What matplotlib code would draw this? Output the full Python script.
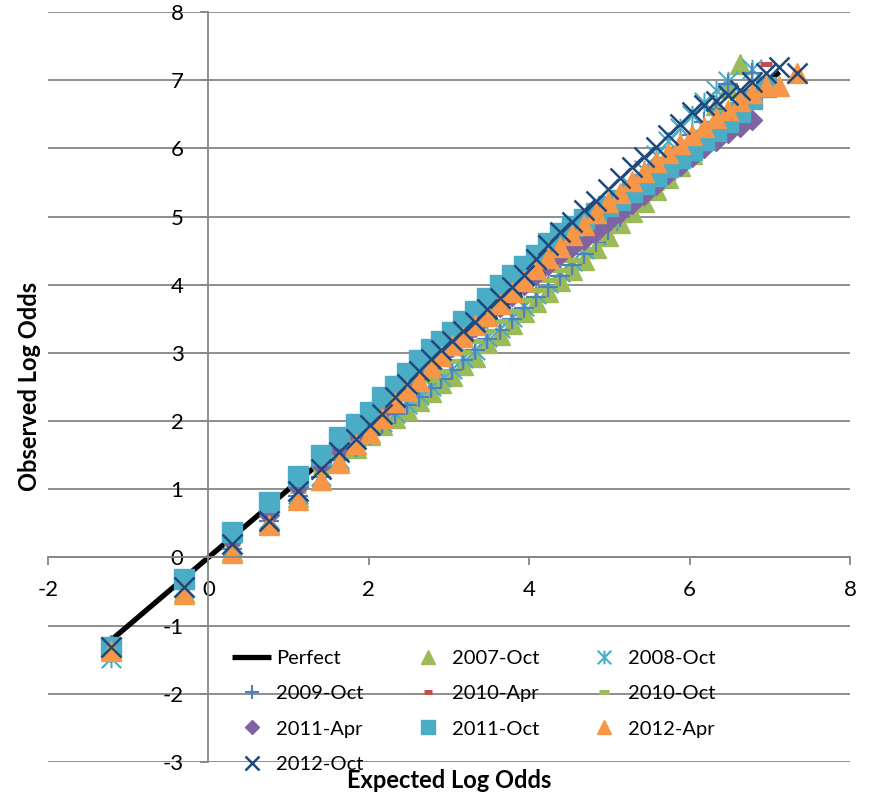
import numpy as np
import matplotlib
matplotlib.use('Agg')
import matplotlib.pyplot as plt
from matplotlib.path import Path

plt.rcParams['font.family'] = ['Lato', 'DejaVu Sans']
plt.rcParams['axes.unicode_minus'] = False

nan = np.nan

# expected log odds of the score bins (shared by all runs)
expected = [-1.22, -0.30, 0.30, 0.76, 1.12, 1.40, 1.63, 1.84, 2.01, 2.17,
            2.33, 2.48, 2.63, 2.77, 2.90, 3.04, 3.18, 3.33, 3.48, 3.63,
            3.78, 3.93, 4.08, 4.23, 4.38, 4.53, 4.68, 4.83, 4.98, 5.13,
            5.28, 5.43, 5.58, 5.73, 5.88, 6.03, 6.18, 6.33, 6.48, 6.63,
            6.78, 6.95, 7.12, 7.34]

perfect = [-1.25, 7.12]

# observed log odds per run
obs_2007_oct = [-1.34, -0.50, 0.10, 0.50, 0.88, 1.14, 1.41, 1.60, 1.79, 1.95,
                2.05, 2.17, 2.29, 2.42, 2.56, 2.66, 2.83, 2.94, 3.14, 3.27,
                3.43, 3.60, 3.74, 3.90, 4.05, 4.22, 4.37, 4.54, 4.71, 4.90,
                5.06, 5.22, 5.39, 5.56, 5.74, 5.92, 6.28, 6.63, 6.88, 7.24,
                nan, nan, nan, nan]
obs_2008_oct = [-1.47, -0.45, 0.15, 0.56, 0.93, 1.20, 1.45, 1.65, 1.82, 1.99,
                2.12, 2.25, 2.38, 2.51, 2.65, 2.77, 2.92, 3.05, 3.23, 3.36,
                3.53, 3.69, 3.86, 4.02, 4.18, 4.35, 4.53, 4.73, 4.96, 5.21,
                5.44, 5.68, 5.90, 6.11, 6.30, 6.49, 6.68, 6.85, 6.99, nan,
                7.17, nan, nan, nan]
obs_2009_oct = [-1.40, -0.46, 0.12, 0.54, 0.90, 1.18, 1.43, 1.62, 1.80, 1.96,
                2.10, 2.24, 2.36, 2.49, 2.62, 2.75, 2.90, 3.04, 3.20, 3.34,
                3.50, 3.66, 3.82, 3.97, 4.13, 4.29, 4.45, 4.62, 4.80, 5.00,
                5.19, 5.40, 5.60, 5.81, 6.00, 6.20, 6.39, 6.58, 6.95, nan,
                7.11, nan, nan, nan]
obs_2010_apr = [-1.36, -0.42, 0.18, 0.60, 0.98, 1.28, 1.52, 1.74, 1.92, 2.10,
                2.27, 2.42, 2.58, 2.74, 2.88, 3.02, 3.17, 3.32, 3.48, 3.63,
                3.79, 3.94, 4.10, 4.26, 4.41, 4.57, 4.72, 4.88, 5.03, 5.18,
                5.33, 5.48, 5.63, 5.78, 5.93, 6.07, 6.22, 6.37, 6.52, 6.66,
                6.80, 7.24, nan, nan]
obs_2010_oct = [-1.30, -0.40, 0.20, 0.62, 0.98, 1.26, 1.50, 1.70, 1.87, 2.03,
                2.18, 2.33, 2.47, 2.61, 2.74, 2.88, 3.02, 3.17, 3.32, 3.47,
                3.62, 3.77, 3.92, 4.07, 4.22, 4.37, 4.52, 4.67, 4.82, 4.97,
                5.12, 5.27, 5.42, 5.57, 5.72, 5.87, 6.02, 6.17, 6.32, 6.47,
                nan, nan, nan, nan]
obs_2011_apr = [-1.28, -0.36, 0.24, 0.62, 1.04, 1.36, 1.58, 1.79, 1.98, 2.15,
                2.38, 2.53, 2.68, 2.82, 2.95, 3.09, 3.23, 3.38, 3.53, 3.68,
                3.83, 3.99, 4.14, 4.29, 4.44, 4.55, 4.66, 4.78, 4.92, 5.05,
                5.18, 5.32, 5.47, 5.62, 5.74, 5.87, 6.00, 6.11, 6.22, 6.32,
                6.41, nan, nan, nan]
obs_2011_oct = [-1.32, -0.31, 0.37, 0.81, 1.20, 1.50, 1.76, 1.96, 2.13, 2.35,
                2.52, 2.70, 2.89, 3.06, 3.18, 3.30, 3.47, 3.62, 3.80, 3.99,
                4.14, 4.28, 4.44, 4.61, 4.76, 4.86, 4.96, 5.05, 5.16, 5.25,
                5.36, 5.48, 5.60, 5.73, 5.86, 5.98, 6.12, 6.25, 6.38, 6.53,
                6.73, 6.90, nan, nan]
obs_2012_apr = [-1.37, -0.53, 0.07, 0.48, 0.84, 1.13, 1.39, 1.67, 1.83, 2.04,
                2.28, 2.46, 2.59, 2.79, 2.95, 3.11, 3.24, 3.41, 3.54, 3.72,
                3.90, 4.05, 4.23, 4.39, 4.56, 4.73, 4.88, 5.05, 5.22, 5.35,
                5.52, 5.66, 5.80, 5.93, 6.06, 6.19, 6.32, 6.45, 6.57, 6.69,
                6.81, 6.91, 6.92, 7.10]
obs_2012_oct = [-1.32, -0.44, 0.20, 0.54, 0.98, 1.30, 1.54, 1.74, 1.94, 2.11,
                2.36, 2.55, 2.73, 2.91, 3.05, 3.17, 3.32, 3.46, 3.64, 3.81,
                3.97, 4.15, 4.38, 4.59, 4.77, 4.92, 5.09, 5.23, 5.41, 5.57,
                5.73, 5.87, 6.02, 6.19, 6.36, 6.53, 6.63, 6.69, 6.78, 6.85,
                6.98, 7.11, 7.20, 7.11]

# Excel-like star marker: an X with a vertical stroke
star = Path([(-1, -1), (1, 1), (-1, 1), (1, -1), (0, -1), (0, 1)],
            [Path.MOVETO, Path.LINETO, Path.MOVETO, Path.LINETO, Path.MOVETO, Path.LINETO])

series = [
    ('2007-Oct', obs_2007_oct, dict(marker='^', ms=14, color='#9BBB59')),
    ('2008-Oct', obs_2008_oct, dict(marker=star, ms=14, mew=1.5, color='#4BACC6')),
    ('2009-Oct', obs_2009_oct, dict(marker='+', ms=14, mew=1.6, color='#4F81BD')),
    ('2010-Apr', obs_2010_apr, dict(marker='_', ms=8, mew=3.6, color='#C0504D')),
    ('2010-Oct', obs_2010_oct, dict(marker='_', ms=11, mew=3.6, color='#9BBB59')),
    ('2011-Apr', obs_2011_apr, dict(marker='D', ms=10, color='#8064A2')),
    ('2011-Oct', obs_2011_oct, dict(marker='s', ms=14, color='#4BACC6')),
    ('2012-Apr', obs_2012_apr, dict(marker='^', ms=14, color='#F79646')),
    ('2012-Oct', obs_2012_oct, dict(marker='x', ms=14, mew=1.8, color='#1F497D')),
]

fig = plt.figure(figsize=(8.71, 7.95), dpi=100)
ax = fig.add_axes([48 / 871, 1 - 762 / 795, 802 / 871, 750 / 795])

handles = {}
h, = ax.plot(perfect, perfect, color='black', lw=3.8, solid_capstyle='butt', label='Perfect')
handles['Perfect'] = h
for name, obs, style in series:
    h, = ax.plot(expected, obs, linestyle='none', mec=style['color'], label=name, **style)
    handles[name] = h

grey = '#868686'
ax.set_xlim(-2, 8)
ax.set_ylim(-3, 8)
ax.set_xticks(np.arange(-2, 9, 2))
ax.set_yticks(np.arange(-3, 9, 1))
ax.spines['left'].set_position(('data', 0))
ax.spines['bottom'].set_position(('data', 0))
for s in ['top', 'right']:
    ax.spines[s].set_visible(False)
for s in ['left', 'bottom']:
    ax.spines[s].set_color(grey)
    ax.spines[s].set_linewidth(1.3)
ax.yaxis.grid(True, color=grey, lw=1.3)
ax.set_axisbelow(True)
ax.tick_params(axis='x', direction='out', length=6, width=1.3, color=grey, pad=10, labelsize=16)
ax.tick_params(axis='y', direction='out', length=6, width=1.3, color=grey, pad=12, labelsize=16)
ax.patch.set_alpha(0)

fig.text(449 / 871, 1 - 781 / 795, 'Expected Log Odds', ha='center', va='center',
         fontsize=17, fontweight='bold')
fig.text(30 / 871, 1 - 386 / 795, 'Observed Log Odds', ha='center', va='center',
         rotation=90, fontsize=17, fontweight='bold')

# Excel fills the legend row by row, matplotlib column by column
order = ['Perfect', '2009-Oct', '2011-Apr', '2012-Oct',
         '2007-Oct', '2010-Apr', '2011-Oct',
         '2008-Oct', '2010-Oct', '2012-Apr']
fig.legend([handles[k] for k in order], order, ncol=3, frameon=False,
           loc='upper left', bbox_to_anchor=(232 / 871, 1 - 650 / 795),
           borderpad=0, borderaxespad=0, handlelength=1.95, handletextpad=0.25,
           columnspacing=2.2, labelspacing=0.9, markerscale=0.7, fontsize=14.5)

fig.savefig('out.png', dpi=100)
